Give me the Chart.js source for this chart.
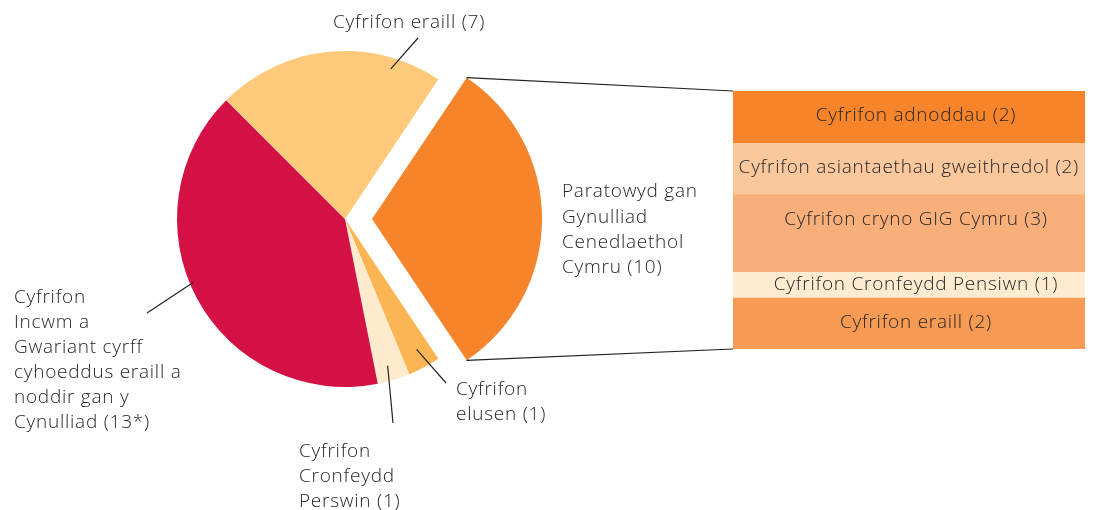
<!DOCTYPE html>
<html>
<head>
<meta charset="utf-8">
<script src="https://cdn.jsdelivr.net/npm/chart.js@4"></script>
<style>
  html, body { margin: 0; padding: 0; background: #fff; }
  #wrap { position: relative; width: 1095px; height: 510px; }
  #wrap canvas { position: absolute; left: 0; top: 0; }
</style>
</head>
<body>
<div id="wrap">
  <canvas id="pie-chart" width="1095" height="510"></canvas>
  <canvas id="bar-chart" width="1095" height="510"></canvas>
</div>
<script>
// pie: accounts by type (clockwise from the exploded slice)
var pieLabels = [
  ['Paratowyd gan', 'Gynulliad', 'Cenedlaethol', 'Cymru (10)'],
  ['Cyfrifon', 'elusen (1)'],
  ['Cyfrifon', 'Cronfeydd', 'Perswin (1)'],
  ['Cyfrifon', 'Incwm a', 'Gwariant cyrff', 'cyhoeddus eraill a', 'noddir gan y', 'Cynulliad (13*)'],
  ['Cyfrifon eraill (7)']
];
var pieValues = [10, 1, 1, 13, 7];
var pieColors = ['#f5842a', '#fbb552', '#feeacc', '#d31145', '#fdc97b'];

// bar: breakdown of the exploded slice, top to bottom
var barLabels = [
  'Cyfrifon adnoddau (2)',
  'Cyfrifon asiantaethau gweithredol (2)',
  'Cyfrifon cryno GIG Cymru (3)',
  'Cyfrifon Cronfeydd Pensiwn (1)',
  'Cyfrifon eraill (2)'
];
var barValues = [2, 2, 3, 1, 2];
var barColors = ['#f5842a', '#fbc89e', '#f9af7a', '#ffebd0', '#f79b54'];

var FONT = '300 19px "Open Sans", "Noto Sans", sans-serif';
var SPACING = '0.75px';
var TEXT = '#262626';

// where each pie label sits: leader start inside slice (t = fraction of slice angle,
// r = fraction of radius), leader end, text start and line height
var pieLabelPos = [
  {text: [562, 192], lh: 25.3},
  {t: 0.44, r: 0.885, end: [446, 383], text: [456, 390], lh: 25},
  {t: 0.56, r: 0.91, end: [393, 423], text: [299, 452], lh: 25},
  {t: 0.537, r: 0.98, end: [147, 313], text: [14, 298], lh: 25},
  {t: 0.787, r: 0.934, end: [418, 38], text: [333, 23], lh: 25}
];

function setFont(ctx) {
  ctx.font = FONT;
  ctx.letterSpacing = SPACING;
  ctx.fillStyle = TEXT;
  ctx.textBaseline = 'middle';
}

var pieLabelPlugin = {
  id: 'pieLabels',
  afterDatasetsDraw: function(chart) {
    var ctx = chart.ctx;
    var arcs = chart.getDatasetMeta(0).data;
    ctx.save();
    setFont(ctx);
    ctx.textAlign = 'left';
    ctx.strokeStyle = '#222';
    ctx.lineWidth = 1.2;
    arcs.forEach(function(arc, i) {
      var p = pieLabelPos[i];
      if (p.end) {
        var a = arc.startAngle + (arc.endAngle - arc.startAngle) * p.t;
        var sx = arc.x + Math.cos(a) * arc.outerRadius * p.r;
        var sy = arc.y + Math.sin(a) * arc.outerRadius * p.r;
        ctx.beginPath();
        ctx.moveTo(sx, sy);
        ctx.lineTo(p.end[0], p.end[1]);
        ctx.stroke();
      }
      pieLabels[i].forEach(function(line, k) {
        ctx.fillText(line, p.text[0], p.text[1] + k * p.lh);
      });
    });
    ctx.restore();
  }
};

var pieChart = new Chart(document.getElementById('pie-chart').getContext('2d'), {
  type: 'pie',
  data: {
    labels: pieLabels.map(function(l) { return l.join(' '); }),
    datasets: [{
      data: pieValues,
      backgroundColor: pieColors,
      borderWidth: 0,
      offset: [108, 0, 0, 0, 0],
      clip: false
    }]
  },
  options: {
    responsive: false,
    animation: false,
    rotation: 33.75,
    radius: 168,
    layout: { padding: { left: 176, right: 581, top: 50, bottom: 122 } },
    plugins: {
      legend: { display: false },
      tooltip: { enabled: false }
    }
  },
  plugins: [pieLabelPlugin]
});

var barPlugin = {
  id: 'barLabels',
  afterDatasetsDraw: function(chart) {
    var ctx = chart.ctx;
    var area = chart.chartArea;
    ctx.save();
    // connectors from the exploded slice to the bar
    var arc = pieChart.getDatasetMeta(0).data[0];
    var off = (arc.options.offset || 0) / 4;
    var mid = (arc.startAngle + arc.endAngle) / 2;
    var circ = arc.endAngle - arc.startAngle;
    var cx = arc.x + Math.cos(mid) * off;
    var cy = arc.y + Math.sin(mid) * off;
    var R = arc.outerRadius + off * (1 - Math.sin(Math.min(Math.PI, circ)));
    ctx.strokeStyle = '#222';
    ctx.lineWidth = 1.2;
    ctx.beginPath();
    ctx.moveTo(cx + Math.cos(arc.startAngle) * R, cy + Math.sin(arc.startAngle) * R);
    ctx.lineTo(area.left, area.top);
    ctx.moveTo(cx + Math.cos(arc.endAngle) * R, cy + Math.sin(arc.endAngle) * R);
    ctx.lineTo(area.left, area.bottom);
    ctx.stroke();

    setFont(ctx);
    ctx.textAlign = 'center';
    chart.data.datasets.forEach(function(ds, i) {
      var el = chart.getDatasetMeta(i).data[0];
      var top = Math.min(el.y, el.base);
      var h = Math.abs(el.y - el.base);
      var w = ctx.measureText(ds.label).width;
      var x = Math.min(el.x + 7, area.right - 6 - w / 2);
      ctx.fillText(ds.label, x, top + Math.min(h / 2, 25));
    });
    ctx.restore();
  }
};

new Chart(document.getElementById('bar-chart').getContext('2d'), {
  type: 'bar',
  data: {
    labels: [''],
    datasets: barLabels.map(function(l, i) {
      return {
        label: l,
        data: [barValues[i]],
        backgroundColor: barColors[i],
        borderWidth: 0,
        categoryPercentage: 1,
        barPercentage: 1
      };
    })
  },
  options: {
    responsive: false,
    animation: false,
    layout: { padding: { left: 733, right: 10, top: 91, bottom: 161 } },
    scales: {
      x: { display: false, stacked: true },
      y: { display: false, stacked: true, reverse: true, min: 0, max: 10 }
    },
    plugins: {
      legend: { display: false },
      tooltip: { enabled: false }
    }
  },
  plugins: [barPlugin]
});
</script>
</body>
</html>
